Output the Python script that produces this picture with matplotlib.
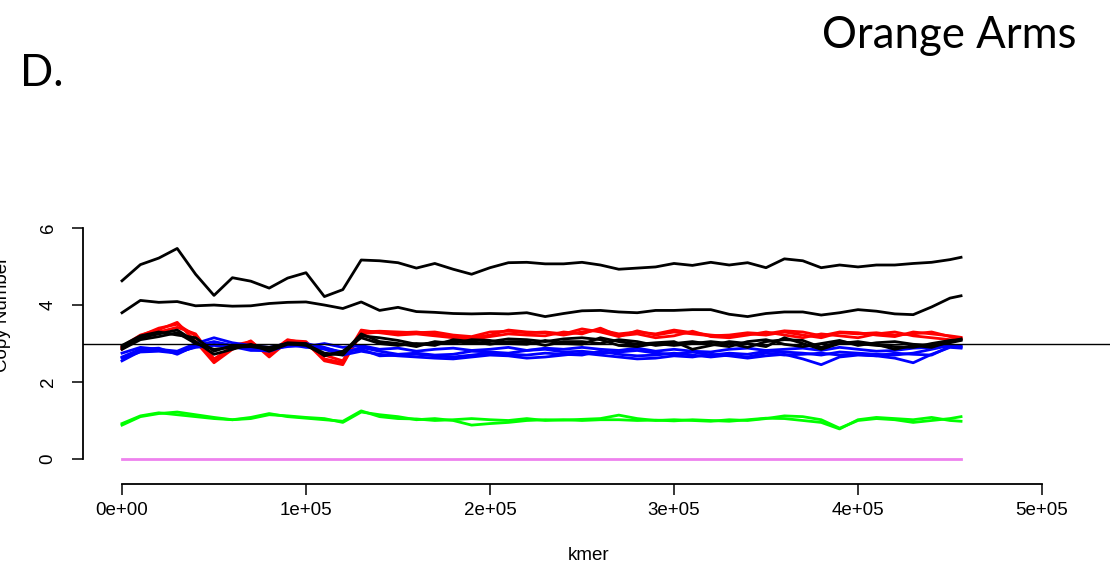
import numpy as np
import matplotlib
matplotlib.use("Agg")
import matplotlib.pyplot as plt

# kmer positions (one value every 10000, last bin at 456000)
kmer = np.append(np.arange(0, 460000, 10000), 456000)

# copy number tracks
black_hi = [4.63, 5.05, 5.22, 5.47, 4.80, 4.25, 4.71, 4.62, 4.44, 4.70,
            4.84, 4.22, 4.40, 5.17, 5.15, 5.10, 4.96, 5.08, 4.93, 4.80,
            4.97, 5.10, 5.11, 5.07, 5.07, 5.11, 5.04, 4.93, 4.96, 4.99,
            5.08, 5.03, 5.11, 5.04, 5.10, 4.97, 5.20, 5.15, 4.97, 5.04,
            4.99, 5.04, 5.04, 5.08, 5.11, 5.18, 5.24]
black_4 = [3.80, 4.12, 4.07, 4.09, 3.98, 4.00, 3.97, 3.98, 4.04, 4.07,
           4.08, 4.00, 3.91, 4.08, 3.86, 3.94, 3.83, 3.81, 3.78, 3.77,
           3.78, 3.77, 3.80, 3.70, 3.78, 3.85, 3.86, 3.82, 3.80, 3.86,
           3.86, 3.88, 3.88, 3.76, 3.70, 3.78, 3.82, 3.82, 3.74, 3.80,
           3.88, 3.84, 3.77, 3.75, 3.95, 4.18, 4.24]

red_1 = [2.92, 3.22, 3.36, 3.55, 3.05, 2.50, 2.85, 3.07, 2.65, 3.05,
         3.03, 2.55, 2.45, 3.30, 3.32, 3.30, 3.28, 3.30, 3.22, 3.18,
         3.30, 3.32, 3.28, 3.30, 3.25, 3.38, 3.30, 3.18, 3.33, 3.22,
         3.30, 3.25, 3.20, 3.22, 3.28, 3.25, 3.33, 3.30, 3.20, 3.30,
         3.28, 3.22, 3.18, 3.30, 3.25, 3.20, 3.16]
red_2 = [2.88, 3.15, 3.30, 3.42, 3.25, 2.60, 2.90, 3.02, 2.75, 3.10,
         3.00, 2.70, 2.55, 3.35, 3.28, 3.22, 3.25, 3.20, 3.15, 3.10,
         3.18, 3.25, 3.22, 3.20, 3.30, 3.25, 3.40, 3.20, 3.25, 3.15,
         3.20, 3.32, 3.18, 3.15, 3.22, 3.30, 3.22, 3.15, 3.25, 3.20,
         3.15, 3.25, 3.30, 3.20, 3.15, 3.10, 3.12]
red_3 = [2.85, 3.20, 3.40, 3.50, 3.20, 2.55, 2.95, 3.05, 2.70, 3.08,
         3.05, 2.60, 2.50, 3.25, 3.30, 3.28, 3.30, 3.25, 3.18, 3.15,
         3.22, 3.35, 3.30, 3.28, 3.22, 3.30, 3.35, 3.25, 3.30, 3.25,
         3.35, 3.28, 3.22, 3.18, 3.25, 3.22, 3.30, 3.22, 3.15, 3.28,
         3.25, 3.28, 3.22, 3.25, 3.30, 3.18, 3.14]

black_3a = [2.90, 3.15, 3.25, 3.35, 3.05, 2.72, 2.85, 2.98, 2.80, 2.98,
            2.98, 2.75, 2.70, 3.20, 3.15, 3.08, 2.98, 3.02, 3.05, 3.00,
            3.05, 3.12, 3.10, 3.05, 3.12, 3.15, 3.10, 2.95, 2.92, 3.00,
            2.95, 3.00, 3.05, 3.00, 2.90, 3.05, 3.10, 3.08, 2.90, 3.05,
            3.00, 2.95, 2.92, 2.90, 3.00, 3.08, 3.10]
black_3b = [2.95, 3.20, 3.30, 3.22, 3.15, 2.80, 2.95, 2.95, 2.90, 3.00,
            2.95, 2.70, 2.75, 3.25, 3.05, 3.00, 2.92, 3.05, 3.00, 3.10,
            3.08, 3.00, 2.98, 3.08, 3.00, 2.98, 3.15, 3.05, 2.98, 3.02,
            3.05, 2.85, 2.95, 3.05, 3.00, 2.92, 3.15, 3.00, 2.85, 3.00,
            3.05, 2.98, 2.85, 2.95, 2.90, 3.05, 3.12]
black_3c = [2.85, 3.10, 3.18, 3.28, 3.00, 2.85, 2.90, 2.92, 2.85, 3.02,
            3.00, 2.68, 2.80, 3.15, 3.00, 2.95, 3.00, 2.95, 3.10, 3.05,
            2.98, 3.05, 3.05, 2.95, 3.05, 3.05, 3.00, 3.10, 3.05, 2.95,
            3.00, 3.05, 2.98, 2.92, 3.05, 3.10, 2.98, 2.92, 3.00, 3.08,
            2.95, 3.02, 3.05, 2.98, 2.95, 3.02, 3.08]

blue_1 = [2.75, 2.90, 2.85, 2.80, 3.00, 3.15, 3.02, 2.95, 2.90, 3.00,
          2.92, 3.00, 2.90, 2.95, 2.85, 2.88, 2.80, 2.85, 2.88, 2.82,
          2.85, 2.90, 2.82, 2.88, 2.85, 2.90, 2.85, 2.82, 2.88, 2.80,
          2.85, 2.80, 2.78, 2.85, 2.88, 2.82, 2.85, 2.88, 2.82, 2.90,
          2.85, 2.80, 2.82, 2.88, 2.90, 2.95, 2.92]
blue_2 = [2.65, 2.85, 2.88, 2.72, 2.95, 3.05, 2.95, 2.85, 2.80, 2.95,
          3.00, 2.90, 2.75, 2.90, 2.80, 2.72, 2.75, 2.70, 2.72, 2.80,
          2.78, 2.75, 2.82, 2.85, 2.78, 2.80, 2.75, 2.78, 2.82, 2.75,
          2.72, 2.78, 2.70, 2.75, 2.72, 2.80, 2.78, 2.75, 2.70, 2.78,
          2.75, 2.72, 2.70, 2.75, 2.85, 2.95, 2.95]
blue_3 = [2.55, 2.80, 2.82, 2.78, 2.90, 2.95, 2.90, 2.88, 2.85, 2.92,
          2.95, 2.85, 2.70, 2.80, 2.72, 2.68, 2.65, 2.62, 2.60, 2.65,
          2.70, 2.68, 2.62, 2.65, 2.70, 2.75, 2.70, 2.65, 2.60, 2.62,
          2.68, 2.65, 2.72, 2.68, 2.62, 2.68, 2.72, 2.60, 2.45, 2.65,
          2.70, 2.68, 2.62, 2.50, 2.72, 2.90, 2.88]
blue_4 = [2.62, 2.78, 2.80, 2.75, 2.92, 2.98, 2.92, 2.82, 2.82, 2.98,
          2.90, 2.88, 2.78, 2.85, 2.68, 2.70, 2.72, 2.68, 2.65, 2.70,
          2.75, 2.72, 2.70, 2.75, 2.72, 2.70, 2.80, 2.72, 2.68, 2.70,
          2.75, 2.70, 2.65, 2.70, 2.65, 2.75, 2.70, 2.72, 2.75, 2.70,
          2.72, 2.68, 2.75, 2.72, 2.70, 2.92, 2.90]

green_1 = [0.88, 1.10, 1.18, 1.22, 1.15, 1.08, 1.02, 1.05, 1.15, 1.12,
           1.08, 1.05, 0.95, 1.22, 1.15, 1.10, 1.02, 1.05, 1.00, 0.88,
           0.92, 0.95, 1.00, 1.02, 1.01, 1.03, 1.05, 1.14, 1.05, 1.00,
           1.02, 1.00, 0.98, 1.02, 1.00, 1.05, 1.12, 1.10, 1.02, 0.80,
           1.00, 1.05, 1.02, 0.95, 1.00, 1.05, 1.10]
green_2 = [0.92, 1.12, 1.20, 1.15, 1.10, 1.05, 1.02, 1.08, 1.18, 1.10,
           1.06, 1.02, 0.98, 1.25, 1.10, 1.05, 1.04, 1.00, 1.02, 1.05,
           1.02, 1.00, 1.05, 1.00, 1.02, 1.00, 1.02, 1.02, 1.00, 1.01,
           0.99, 1.02, 1.00, 0.98, 1.02, 1.06, 1.05, 1.00, 0.95, 0.78,
           1.02, 1.08, 1.05, 1.02, 1.08, 1.00, 0.98]

violet_0 = [0.0] * len(kmer)

xticks = [0, 100000, 200000, 300000, 400000, 500000]
xtick_labels = ["0e+00", "1e+05", "2e+05", "3e+05", "4e+05", "5e+05"]
yticks = [0, 2, 4, 6]

W, H = 1114, 577
fig = plt.figure(figsize=(W / 100, H / 100), dpi=100)
plt.rcParams['font.family'] = ['Liberation Sans', 'DejaVu Sans']

# plot region in pixels (left 83, right 1110, bottom 484, top 138)
ax = fig.add_axes([83 / W, 1 - 484 / H, (1110 - 83) / W, (484 - 138) / H])
ax.set_xlim(-21196, 536957)
ax.set_ylim(-0.65, 8.34)

lw = 2.0
ax.plot(kmer, violet_0, color='violet', lw=lw)
for g in [green_1, green_2]:
    ax.plot(kmer, g, color='#00ff00', lw=lw)
for r in [red_1, red_2, red_3]:
    ax.plot(kmer, r, color='#ff0000', lw=lw)
for b in [blue_1, blue_2, blue_3, blue_4]:
    ax.plot(kmer, b, color='#0000ff', lw=lw)
for k in [black_hi, black_4, black_3a, black_3b, black_3c]:
    ax.plot(kmer, k, color='black', lw=lw)

ax.axhline(3, color='black', lw=1.0)

for s in ['top', 'right']:
    ax.spines[s].set_visible(False)
ax.spines['left'].set_bounds(0, 6)
ax.spines['bottom'].set_bounds(0, 500000)
ax.spines['left'].set_linewidth(1.3)
ax.spines['bottom'].set_linewidth(1.3)

ax.set_xticks(xticks)
ax.set_xticklabels(xtick_labels)
ax.set_yticks(yticks)
ax.set_yticklabels([str(v) for v in yticks], rotation=90, va='center')
ax.tick_params(axis='both', direction='out', length=8, width=1.1,
               labelsize=13.5)
ax.tick_params(axis='x', pad=5)
ax.tick_params(axis='y', pad=11)

fig.text(589 / W, 1 - 555 / H, "kmer", ha='center', va='center', fontsize=13.5)
# cut off at the left edge, as in the original
fig.text(11 / W, 1 - 314 / H, "Copy Number", ha='right', va='center',
         rotation=90, fontsize=13.5)

fig.text(1077 / W, 1 - 48 / H, "Orange Arms", ha='right', va='baseline',
         fontsize=31.5, family=['Lato', 'DejaVu Sans'])
fig.text(20 / W, 1 - 86 / H, "D.", ha='left', va='baseline',
         fontsize=31.5, family=['Lato', 'DejaVu Sans'])

fig.savefig("out.png", dpi=100)
